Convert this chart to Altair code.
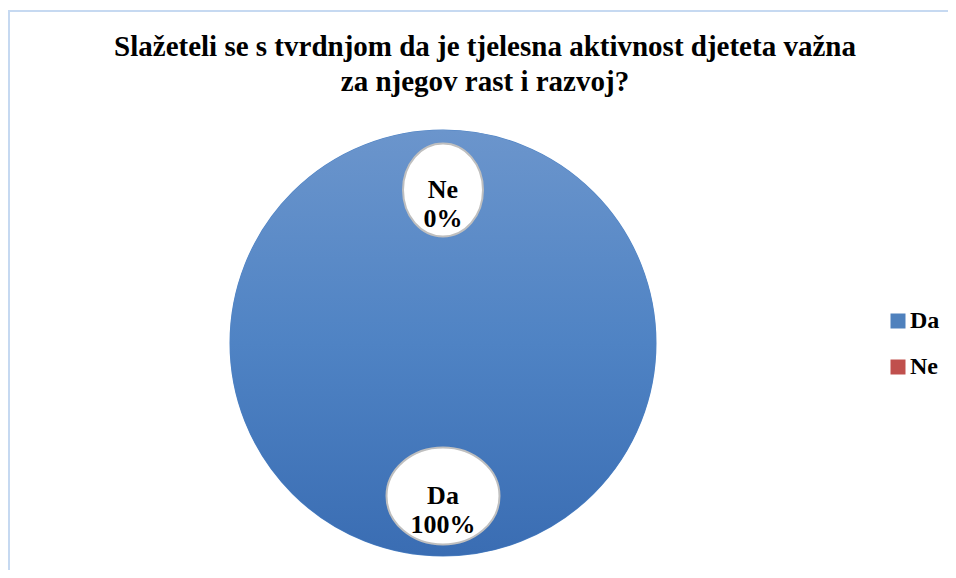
import altair as alt
import pandas as pd

# ---- data ----
categories = ["Da", "Ne"]
values = [100, 0]
percent_labels = ["100%", "0%"]
order = [1, 2]

title_lines = [
    "Slažeteli se s tvrdnjom da je tjelesna aktivnost djeteta važna",
    "za njegov rast i razvoj?",
]

df = pd.DataFrame({"cat": categories, "value": values, "pct": percent_labels, "ord": order})

# ---- layout constants ----
W, H = 870, 450
CX, CY = W / 2, H / 2
PIE_R = 212
LABEL_R = 153
FONT = "Liberation Serif, Times New Roman, serif"

ell_ne = ("M 0,-1 C 0.475,-1 0.86,-0.5523 0.86,0 C 0.86,0.5523 0.475,1 0,1 "
          "C -0.475,1 -0.86,0.5523 -0.86,0 C -0.86,-0.5523 -0.475,-1 0,-1 Z")
ell_da = ("M 0,-0.86 C 0.5523,-0.86 1,-0.475 1,0 C 1,0.475 0.5523,0.86 0,0.86 "
          "C -0.5523,0.86 -1,0.475 -1,0 C -1,-0.475 -0.5523,-0.86 0,-0.86 Z")

grad = alt.LinearGradient(
    gradient="linear",
    stops=[
        alt.GradientStop(color="#6b95cc", offset=0),
        alt.GradientStop(color="#4f83c4", offset=0.5),
        alt.GradientStop(color="#3a6db3", offset=1),
    ],
    x1=0, x2=0, y1=0, y2=1,
)

base = alt.Chart(df)

pie = base.mark_arc(radius=PIE_R, stroke="#4f83c4", strokeWidth=3).encode(
    theta=alt.Theta("value:Q", stack=True),
    order=alt.Order("ord:Q"),
    color=alt.Color(
        "cat:N",
        scale=alt.Scale(domain=categories, range=["#4f81bd", "#c0504d"]),
        legend=alt.Legend(
            title=None,
            orient="none",
            legendX=878,
            legendY=191,
            symbolType="square",
            symbolSize=225,
            symbolStrokeWidth=0,
            labelFont=FONT,
            labelFontSize=24,
            labelFontWeight="bold",
            labelColor="#000000",
            labelOffset=0,
            rowPadding=22,
            padding=0,
        ),
    ),
)

pie_grad = base.transform_filter(alt.datum.cat == "Da").mark_arc(
    radius=PIE_R, fill=grad, stroke=grad, strokeWidth=2
).encode(theta=alt.Theta("value:Q", stack=True), order=alt.Order("ord:Q"))

pos = base.transform_joinaggregate(total="sum(value)").transform_window(
    cum="sum(value)", sort=[alt.SortField("ord")]
).transform_calculate(
    mid="(datum.cum - datum.value / 2) / datum.total * 2 * PI",
).transform_calculate(
    px=f"{CX} + {LABEL_R} * sin(datum.mid)",
    py=f"{CY} - {LABEL_R} * cos(datum.mid)",
    lab="datum.cat + '\\n' + datum.pct",
    key="'k_' + datum.cat",
)

ellipses = pos.mark_point(
    filled=True, fill="white", stroke="#bfbfbf", strokeWidth=2, opacity=1
).encode(
    x=alt.X("px:Q", scale=None),
    y=alt.Y("py:Q", scale=None),
    shape=alt.Shape("key:N", scale=alt.Scale(domain=["k_Da", "k_Ne"], range=[ell_da, ell_ne]), legend=None),
    size=alt.Size("key:N", scale=alt.Scale(domain=["k_Da", "k_Ne"], range=[12769, 8649]), legend=None),
)

texts = pos.mark_text(
    font=FONT, fontSize=26, fontWeight="bold", color="black",
    lineBreak="\n", lineHeight=29, baseline="middle", align="center",
).encode(
    x=alt.X("px:Q", scale=None),
    y=alt.Y("py:Q", scale=None),
    text="lab:N",
)

frame = alt.Chart(pd.DataFrame({"k": [0]})).mark_rule(color="#c6d9f1", strokeWidth=2).encode(
    x=alt.value(0), x2=alt.value(950), y=alt.value(-107)
)
frame_left = alt.Chart(pd.DataFrame({"k": [0]})).mark_rule(color="#c6d9f1", strokeWidth=2).encode(
    x=alt.value(1), y=alt.value(-107), y2=alt.value(460)
)

chart = alt.layer(frame, frame_left, pie, pie_grad, ellipses, texts).properties(
    width=W,
    height=H,
    autosize=alt.AutoSizeParams(type="none"),
    padding={"left": 0, "top": 110, "right": 70, "bottom": 2},
    title=alt.TitleParams(
        text=title_lines,
        font=FONT,
        fontSize=29,
        fontWeight="bold",
        color="black",
        anchor="middle",
        frame="group",
        dx=42,
        offset=-87,
        lineHeight=35,
    ),
).configure_view(stroke=None)

chart.save("out.html", embed_options={"renderer": "svg", "actions": False})
